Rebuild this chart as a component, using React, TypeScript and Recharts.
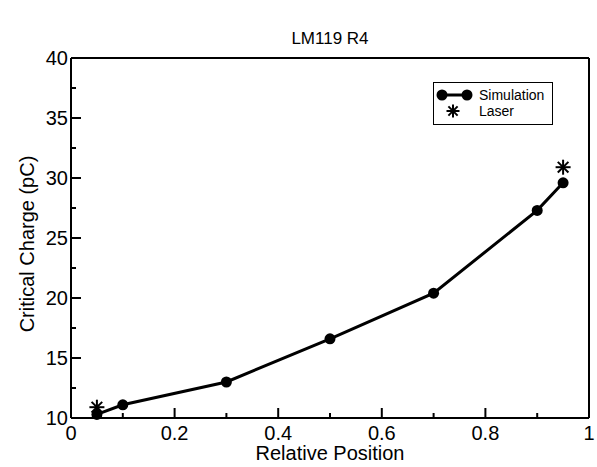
import { ComposedChart, Line, Scatter, XAxis, YAxis, Legend } from "recharts";

const chartTitle = "LM119 R4";
const xLabel = "Relative Position";
const yLabel = "Critical Charge (pC)";
const seriesNames = ["Simulation", "Laser"];

const simX = [0.05, 0.1, 0.3, 0.5, 0.7, 0.9, 0.95];
const simY = [10.3, 11.1, 13.0, 16.6, 20.4, 27.3, 29.6];
const laserX = [0.05, 0.95];
const laserY = [10.9, 30.9];

const xTicks = [0, 0.1, 0.2, 0.3, 0.4, 0.5, 0.6, 0.7, 0.8, 0.9, 1];
const yTicks = [10, 12.5, 15, 17.5, 20, 22.5, 25, 27.5, 30, 32.5, 35, 37.5, 40];

const simData = simX.map((x, i) => ({ x, y: simY[i] }));
const laserData = laserX.map((x, i) => ({ x, y: laserY[i] }));

const FONT = "'Liberation Sans', Arial, Helvetica, sans-serif";
const W = 597;
const H = 467;
const PLOT = { left: 71, right: 589, top: 58, bottom: 418 };
const MAJOR = 10;
const MINOR = 5;

const fmt = (v: number) => String(Math.round(v * 10) / 10);
const xMajor = (v: number) => Math.round(v * 10) % 2 === 0;
const yMajor = (v: number) => Math.round(v * 10) % 50 === 0;

function BottomTick({ x, payload }: any) {
  const major = xMajor(payload.value);
  return (
    <g>
      <line x1={x} x2={x} y1={PLOT.bottom} y2={PLOT.bottom - (major ? MAJOR : MINOR)} stroke="#000" strokeWidth={2} />
      {major && (
        <text x={x} y={440} textAnchor="middle" fontSize={20} fontFamily={FONT} fill="#000">
          {fmt(payload.value)}
        </text>
      )}
    </g>
  );
}

function TopTick({ x, payload }: any) {
  const major = xMajor(payload.value);
  return <line x1={x} x2={x} y1={PLOT.top} y2={PLOT.top + (major ? MAJOR : MINOR)} stroke="#000" strokeWidth={2} />;
}

function LeftTick({ y, payload }: any) {
  const major = yMajor(payload.value);
  return (
    <g>
      <line x1={PLOT.left} x2={PLOT.left + (major ? MAJOR : MINOR)} y1={y} y2={y} stroke="#000" strokeWidth={2} />
      {major && (
        <text x={PLOT.left - 3} y={y + 7} textAnchor="end" fontSize={20} fontFamily={FONT} fill="#000">
          {fmt(payload.value)}
        </text>
      )}
    </g>
  );
}

function RightTick({ y, payload }: any) {
  const major = yMajor(payload.value);
  return <line x1={PLOT.right} x2={PLOT.right - (major ? MAJOR : MINOR)} y1={y} y2={y} stroke="#000" strokeWidth={2} />;
}

function Star({ cx, cy, r = 7.5 }: { cx: number; cy: number; r?: number }) {
  const d = r * Math.SQRT1_2;
  return (
    <g stroke="#000" strokeWidth={2}>
      <line x1={cx - r} x2={cx + r} y1={cy} y2={cy} />
      <line x1={cx} x2={cx} y1={cy - r} y2={cy + r} />
      <line x1={cx - d} x2={cx + d} y1={cy - d} y2={cy + d} />
      <line x1={cx - d} x2={cx + d} y1={cy + d} y2={cy - d} />
    </g>
  );
}

function LegendBox() {
  return (
    <svg width={120} height={43} style={{ display: "block" }}>
      <rect x={0.5} y={0.5} width={119} height={42} fill="#fff" stroke="#000" strokeWidth={1} />
      <line x1={9} x2={34} y1={13} y2={13} stroke="#000" strokeWidth={3} />
      <circle cx={9} cy={13} r={5.5} fill="#000" />
      <circle cx={34} cy={13} r={5.5} fill="#000" />
      <text x={46} y={18} fontSize={14} fontFamily={FONT} fill="#000">{seriesNames[0]}</text>
      <Star cx={20} cy={29} r={6.5} />
      <text x={46} y={34} fontSize={14} fontFamily={FONT} fill="#000">{seriesNames[1]}</text>
    </svg>
  );
}

export default function App() {
  return (
    <div style={{ position: "absolute", left: 0, top: 0, width: W, height: H, background: "#fff", fontFamily: FONT }}>
      <div
        style={{
          position: "absolute",
          left: PLOT.left,
          width: PLOT.right - PLOT.left,
          top: 30,
          textAlign: "center",
          fontSize: 17,
          lineHeight: "17px",
          color: "#000",
        }}
      >
        {chartTitle}
      </div>
      <ComposedChart width={W} height={H} margin={{ top: PLOT.top - 1, right: W - PLOT.right - 1, bottom: 0, left: 0 }}>
        <XAxis
          xAxisId="b"
          dataKey="x"
          type="number"
          domain={[0, 1]}
          ticks={xTicks}
          interval={0}
          height={H - PLOT.bottom}
          axisLine={{ stroke: "#000", strokeWidth: 2 }}
          tickLine={false}
          tick={<BottomTick />}
          label={{ value: xLabel, position: "insideBottom", offset: 7, fontSize: 20, fontFamily: FONT, fill: "#000" }}
        />
        <XAxis
          xAxisId="t"
          orientation="top"
          dataKey="x"
          type="number"
          domain={[0, 1]}
          ticks={xTicks}
          interval={0}
          height={1}
          axisLine={{ stroke: "#000", strokeWidth: 2 }}
          tickLine={false}
          tick={<TopTick />}
        />
        <YAxis
          yAxisId="l"
          type="number"
          domain={[10, 40]}
          ticks={yTicks}
          interval={0}
          width={PLOT.left}
          axisLine={{ stroke: "#000", strokeWidth: 2 }}
          tickLine={false}
          tick={<LeftTick />}
          label={{
            value: yLabel,
            angle: -90,
            position: "insideLeft",
            offset: 27,
            dy: 6,
            style: { textAnchor: "middle" },
            fontSize: 20,
            fontFamily: FONT,
            fill: "#000",
          }}
        />
        <YAxis
          yAxisId="r"
          orientation="right"
          type="number"
          domain={[10, 40]}
          ticks={yTicks}
          interval={0}
          width={1}
          axisLine={{ stroke: "#000", strokeWidth: 2 }}
          tickLine={false}
          tick={<RightTick />}
        />
        <Line
          xAxisId="b"
          yAxisId="l"
          data={simData}
          dataKey="y"
          name={seriesNames[0]}
          type="linear"
          stroke="#000"
          strokeWidth={3}
          dot={{ r: 5.5, fill: "#000", stroke: "#000", strokeWidth: 0 }}
          isAnimationActive={false}
        />
        <Scatter
          xAxisId="b"
          yAxisId="l"
          data={laserData}
          dataKey="y"
          name={seriesNames[1]}
          shape={(p: any) => <Star cx={p.cx} cy={p.cy} />}
          isAnimationActive={false}
        />
        <Legend
          layout="vertical"
          align="center"
          verticalAlign="middle"
          content={() => <LegendBox />}
          wrapperStyle={{ left: 433, top: 82, width: 120, height: 43 }}
        />
      </ComposedChart>
    </div>
  );
}
